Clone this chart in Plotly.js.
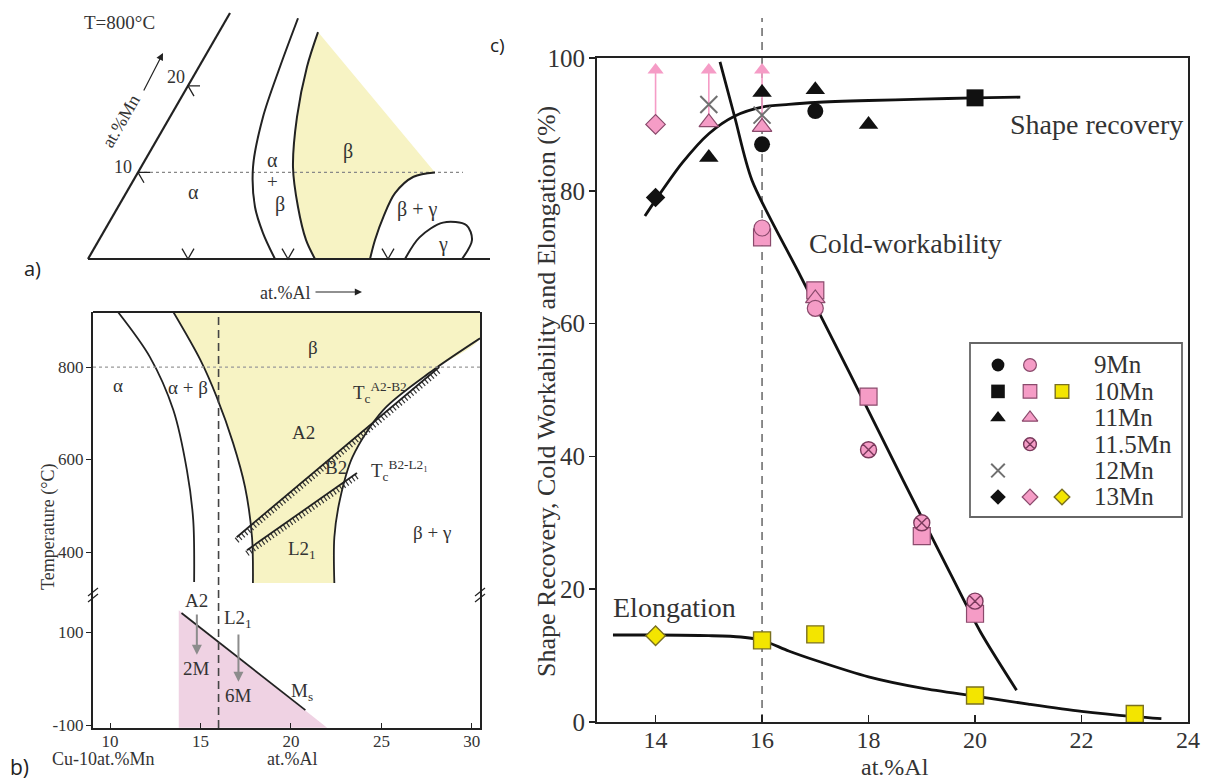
<!DOCTYPE html>
<html>
<head>
<meta charset="utf-8">
<script src="https://cdn.plot.ly/plotly-3.0.1.min.js"></script>
<style>
  html, body { margin: 0; padding: 0; background: #fff; }
  #fig { width: 1216px; height: 781px; }
</style>
</head>
<body>
<div id="fig"></div>
<script>
// ---------- (a) Cu–Al–Mn isothermal section at 800 °C, points given as (at.%Al, at.%Mn) ----------
const secAlphaAl  = [7.1, 8.1, 9.3, 11.2, 13.7, 16.0, 18.7];
const secAlphaMn  = [27.8, 22.2, 16.4, 10.6, 6.0, 3.0, 0];
const secBetaLoAl = [9.9, 10.8, 12.7, 15.2, 18.0, 20.7, 22.7];
const secBetaLoMn = [26.2, 22.2, 16.4, 10.6, 6.0, 2.2, 0];
const secBetaHiAl = [29.7, 27.8, 26.9, 27.1, 27.6, 28.2];
const secBetaHiMn = [10.0, 9.5, 7.6, 4.9, 2.2, 0];
const secGammaAl  = [31.7, 31.9, 33.4, 35.9, 37.3, 37.4];
const secGammaMn  = [0, 2.5, 4.2, 3.9, 2.2, 0];
const secAlTicks  = [10, 20, 30];
const secMnTicks  = [10, 20];
const secMnCut    = 10;
const secCutEndAl = 32.5;
const secAlMax    = 40.2;
const secMnMax    = 28.4;

// ---------- (b) vertical section Cu-10at.%Mn – Al ----------
const vsAlphaAl   = [10.44, 12.2, 13.5, 14.25, 14.6, 14.65];
const vsAlphaT    = [919, 822, 707, 577, 469, 335];
const vsBetaLoAl  = [13.5, 15.0, 15.9, 16.8, 17.46, 17.85, 17.9];
const vsBetaLoT   = [919, 815, 735, 636, 541, 432, 333];
const vsBetaHiAl  = [30.45, 27.85, 25.1, 23.4, 22.7, 22.4, 22.4];
const vsBetaHiT   = [862, 793, 707, 605, 512, 432, 333];
const vsTcA2B2Al  = [17.0, 28.2];
const vsTcA2B2T   = [432, 800];
const vsTcB2L2Al  = [17.57, 23.65];
const vsTcB2L2T   = [404, 571];
const vsMsAl      = [13.95, 20.8];
const vsMsT       = [141, -68];
const vsMartAl    = [13.8, 22.0, 13.8];
const vsMartT     = [147, -106, -106];
const vsArrowAl   = [14.8, 17.1];
const vsArrowFrom = [141, 98];
const vsArrowTo   = [51, -7];
const vsParent    = ['A2', 'L2<sub>1</sub>'];
const vsMarten    = ['2M', '6M'];
const vsSectionAl = 16;
const vsIsoT      = 800;
const vsUpperT    = [307, 919];
const vsLowerT    = [-106.4, 179.6];
const vsXTicks    = [10, 15, 20, 25, 30];
const vsUpTicks   = [400, 600, 800];
const vsLoTicks   = [-100, 100];
const vsLoLabels  = ['-100', '100'];

// ---------- (c) properties vs at.%Al ----------
// shape recovery (black)
const srAl9  = [16, 17],          srVal9  = [87, 92];
const srAl10 = [20],              srVal10 = [94];
const srAl11 = [15, 16, 17, 18],  srVal11 = [85, 94.8, 95.2, 90];
const srAl12 = [15, 16],          srVal12 = [93, 91.4];
const srAl13 = [14],              srVal13 = [79];
// cold workability (pink)
const cwAl9   = [16, 17],             cwVal9   = [74.4, 62.3];
const cwAl10  = [16, 17, 18, 19, 20], cwVal10  = [73, 65, 49, 28, 16.3];
const cwAl11  = [15, 16, 17],         cwVal11  = [90.3, 89.6, 63.8];
const cwAl115 = [18, 19, 20],         cwVal115 = [41, 30, 18.2];
const cwAl13  = [14],                 cwVal13  = [90];
const cwUpAl   = [14, 15, 16];        // alloys that were cold-worked without cracking
const cwUpFrom = [90, 90.3, 89.6];
const cwUpTo   = 98.2;
// elongation (yellow)
const elAl10 = [16, 17, 20, 23], elVal10 = [12.3, 13.2, 4, 1.2];
const elAl13 = [14],             elVal13 = [13];
// guide curves
const srFitAl = [13.8, 14.0, 14.5, 15.0, 15.5, 16.0, 16.5, 17.0, 18.0, 19.0, 20.0, 20.85];
const srFitV  = [76.2, 78.6, 84.2, 88.6, 91.3, 92.6, 93.0, 93.3, 93.6, 93.8, 94.0, 94.1];
const cwFitAl = [15.21, 15.49, 15.81, 16.72, 17.66, 18.65, 19.54, 20.1, 20.78];
const cwFitV  = [99.4, 91, 81.6, 67.2, 52.3, 36.4, 22.3, 13.6, 4.8];
const elFitAl = [13.2, 14, 15, 15.6, 16, 16.5, 17, 18, 19, 20, 21, 22, 23, 23.5];
const elFitV  = [13.1, 13.1, 13.0, 12.8, 12.3, 10.7, 9.3, 6.8, 5.1, 3.9, 2.7, 1.6, 0.8, 0.5];
const orderAl = 16;      // A2 / L2_1 boundary
const xTicksC = [14, 16, 18, 20, 22, 24];
const yTicksC = [0, 20, 40, 60, 80, 100];

// legend rows: symbols for the shape-recovery, cold-workability and elongation columns
const legRows = ['9Mn', '10Mn', '11Mn', '11.5Mn', '12Mn', '13Mn'];
const legKeys = [
  ['circle', 'circle', null],
  ['square', 'square', 'square'],
  ['triangle-up', 'triangle-up', null],
  [null, 'circle-x', null],
  ['x-thin-open', null, null],
  ['diamond', 'diamond', 'diamond']
];

// ---------- styling ----------
const W = 1216, H = 781;
const PX = v => v / W, PY = v => 1 - v / H;
const SERIF = 'Liberation Serif, DejaVu Serif, serif';
const SANS = 'Open Sans, Liberation Sans, sans-serif';
const INK = '#222';
const TXT = '#333';
const YEL_FILL = '#f7f3c4';
const PINK_FILL = '#efd2e3';
const PINK = '#f59cc6', PINK_EDGE = '#8a4a6c';
const YEL = '#f3e500', YEL_EDGE = '#7a7020';
const GREY_X = '#707070';

const traces = [];
const base = { type: 'scatter', hoverinfo: 'skip', showlegend: false };

// ---------- (a) ----------
const R3 = Math.sqrt(3) / 2;
const terX = (al, mn) => al.map((a, i) => a + mn[i] / 2);
const terY = mn => mn.map(m => m * R3);
function terLine(al, mn, extra) {
  traces.push(Object.assign({}, base, {
    x: terX(al, mn), y: terY(mn), xaxis: 'x3', yaxis: 'y4', mode: 'lines',
    line: { color: INK, width: 2, shape: 'spline', smoothing: 0.9 }
  }, extra || {}));
}
// beta field: filled between the alpha+beta/beta and beta/beta+gamma boundaries
terLine(secBetaLoAl, secBetaLoMn, { line: { width: 0, shape: 'spline', smoothing: 0.9 } });
terLine(secBetaHiAl, secBetaHiMn, { fill: 'tonexty', fillcolor: YEL_FILL, line: { width: 0, shape: 'spline', smoothing: 0.9 } });
// Mn = 10 cut
terLine([0, secCutEndAl], [secMnCut, secMnCut], { line: { color: '#888', width: 1.3, dash: 'dot' } });
// triangle edges
terLine([0, secAlMax], [0, 0], { line: { color: INK, width: 2.2 } });
terLine([0, 0], [0, secMnMax], { line: { color: INK, width: 2.2 } });
// phase boundaries
terLine(secAlphaAl, secAlphaMn);
terLine(secBetaLoAl, secBetaLoMn);
terLine(secBetaHiAl, secBetaHiMn);
terLine(secGammaAl, secGammaMn);
// grid ticks on the two edges
{
  const al = [], mn = [];
  secAlTicks.forEach(t => { al.push(t, t, t - 1.2, null); mn.push(1.2, 0, 1.2, null); });
  secMnTicks.forEach(t => { al.push(1.2, 0, 1.2, null); mn.push(t, t, t - 1.2, null); });
  traces.push(Object.assign({}, base, {
    x: al.map((a, i) => a === null ? null : a + mn[i] / 2),
    y: mn.map(m => m === null ? null : m * R3),
    xaxis: 'x3', yaxis: 'y4', mode: 'lines', line: { color: INK, width: 1.3 }
  }));
}

// ---------- (b) ----------
function vs(xs, ys, yax, extra) {
  traces.push(Object.assign({}, base, {
    x: xs, y: ys, xaxis: 'x2', yaxis: yax, mode: 'lines',
    line: { color: INK, width: 1.8, shape: 'spline', smoothing: 0.9 }
  }, extra || {}));
}
// beta field above the break: between the two boundaries, closed along the top frame
vs(vsBetaLoAl, vsBetaLoT, 'y3', { line: { width: 0, shape: 'spline', smoothing: 0.9 } });
vs([vsBetaHiAl[0]].concat(vsBetaHiAl), [vsUpperT[1]].concat(vsBetaHiT), 'y3',
  { fill: 'tonexty', fillcolor: YEL_FILL, line: { width: 0, shape: 'spline', smoothing: 0.9 } });
// martensite field below Ms
vs(vsMartAl, vsMartT, 'y2', { fill: 'toself', fillcolor: PINK_FILL, line: { width: 0 } });
vs(vsAlphaAl, vsAlphaT, 'y3');
vs(vsBetaLoAl, vsBetaLoT, 'y3');
vs(vsBetaHiAl, vsBetaHiT, 'y3');
// ordering temperatures with hatching on the ordered side
[[vsTcA2B2Al, vsTcA2B2T], [vsTcB2L2Al, vsTcB2L2T]].forEach(([xs, ts]) => {
  vs(xs, ts.map(t => t - 7), 'y3', { line: { color: '#333', width: 6, dash: '1.2px,2.6px' } });
  vs(xs, ts, 'y3', { line: { color: INK, width: 1.8 } });
});
vs(vsMsAl, vsMsT, 'y2', { line: { color: INK, width: 1.8 } });

// ---------- (c) ----------
function cLine(xs, ys) {
  traces.push(Object.assign({}, base, {
    x: xs, y: ys, xaxis: 'x', yaxis: 'y', mode: 'lines',
    line: { color: '#111', width: 2.8, shape: 'spline', smoothing: 0.8 }
  }));
}
cLine(srFitAl, srFitV);
cLine(cwFitAl, cwFitV);
cLine(elFitAl, elFitV);
// arrow shafts for the cold-workability marks that reached the limit
{
  const xs = [], ys = [];
  cwUpAl.forEach((a, i) => { xs.push(a, a, null); ys.push(cwUpFrom[i], cwUpTo, null); });
  traces.push(Object.assign({}, base, { x: xs, y: ys, mode: 'lines', line: { color: PINK, width: 1.6 } }));
  traces.push(Object.assign({}, base, {
    x: cwUpAl, y: cwUpAl.map(() => cwUpTo), mode: 'markers', cliponaxis: false,
    marker: { symbol: 'triangle-up', size: 14, color: PINK, line: { width: 0 } }
  }));
}
const looks = {
  sr: { color: '#111', line: { width: 0 } },
  cw: { color: PINK, line: { color: PINK_EDGE, width: 1.2 } },
  el: { color: YEL, line: { color: YEL_EDGE, width: 1.4 } }
};
const sizes = { circle: 16, square: 17, 'triangle-up': 17, diamond: 15, 'circle-x': 16, 'x-thin-open': 17 };
function markStyle(sym, col, scale) {
  const s = (sizes[sym] || 14) * (scale || 1);
  if (sym === 'x-thin-open') return { symbol: sym, size: s, color: GREY_X, line: { color: GREY_X, width: 2 } };
  if (sym === 'circle-x') return { symbol: sym, size: s, color: PINK, line: { color: '#7a3a5c', width: 1.4 } };
  return Object.assign({ symbol: sym, size: s }, JSON.parse(JSON.stringify(looks[col])));
}
function cPts(xs, ys, sym, col) {
  traces.push(Object.assign({}, base, {
    x: xs, y: ys, xaxis: 'x', yaxis: 'y', mode: 'markers', cliponaxis: false,
    marker: markStyle(sym, col)
  }));
}
cPts(elAl10, elVal10, 'square', 'el');
cPts(elAl13, elVal13, 'diamond', 'el');
cPts(cwAl10, cwVal10, 'square', 'cw');
cPts(cwAl11, cwVal11, 'triangle-up', 'cw');
cPts(cwAl9, cwVal9, 'circle', 'cw');
cPts(cwAl115, cwVal115, 'circle-x', 'cw');
cPts(cwAl13, cwVal13, 'diamond', 'cw');
cPts(srAl12, srVal12, 'x-thin-open', 'sr');
cPts(srAl9, srVal9, 'circle', 'sr');
cPts(srAl10, srVal10, 'square', 'sr');
cPts(srAl11, srVal11, 'triangle-up', 'sr');
cPts(srAl13, srVal13, 'diamond', 'sr');

// legend keys
const legCols = ['sr', 'cw', 'el'];
const legColX = [28, 60, 92], legRow0 = 22, legStep = 26.4, legTextX = 122;
legKeys.forEach((row, r) => row.forEach((sym, c) => {
  if (!sym) return;
  traces.push(Object.assign({}, base, {
    x: [legColX[c]], y: [legRow0 + r * legStep], xaxis: 'x4', yaxis: 'y5', mode: 'markers',
    marker: markStyle(sym, legCols[c], 0.8)
  }));
}));

// ---------- annotations ----------
const ann = [];
const txt = (o, size, color, family) => Object.assign({
  showarrow: false, xanchor: 'center', yanchor: 'middle',
  font: { family: family || SERIF, size: size, color: color || TXT }
}, o);

// (a)
const aRef = { xref: 'x3', yref: 'y4' };
const aPt = (px, py) => ({ x: (px - 88) / 10, y: (259 - py) / 10 });
[
  ['T=800°C', 119, 23, 19], ['α', 193, 192, 20], ['α', 272, 160, 20], ['+', 272, 182, 19],
  ['β', 280, 205, 20], ['β', 348, 152, 20], ['β + γ', 417, 210, 20], ['γ', 443, 245, 20],
  ['Cu', 76, 274, 18], ['10', 190, 274, 18], ['20', 288, 274, 18], ['30', 388, 274, 18],
  ['10', 123, 167, 18], ['20', 176, 77, 18]
].forEach(([t, x, y, s]) => ann.push(txt(Object.assign({ text: t }, aRef, aPt(x, y)), s)));
ann.push(txt(Object.assign({ text: 'at.%Mn', textangle: -60 }, aRef, aPt(121, 121)), 18));
ann.push(Object.assign({ text: '', showarrow: true, axref: 'x3', ayref: 'y4', arrowhead: 2, arrowsize: 1.2, arrowwidth: 1.2, arrowcolor: INK },
  aRef, aPt(163, 53), { ax: aPt(143, 92).x, ay: aPt(143, 92).y }));
ann.push(txt({ text: 'at.%Al', xref: 'paper', yref: 'paper', x: PX(285), y: PY(293) }, 18));
ann.push({ text: '', showarrow: true, xref: 'paper', yref: 'paper', x: PX(362), y: PY(292), ax: -48, ay: 0,
  arrowhead: 2, arrowsize: 1.2, arrowwidth: 1.2, arrowcolor: INK });

// (b)
const bUp = { xref: 'x2', yref: 'y3' }, bLo = { xref: 'x2', yref: 'y2' };
[
  ['α', 10.45, 761], ['α + β', 14.3, 755], ['β', 21.2, 843], ['A2', 20.7, 659],
  ['B2', 22.5, 582], ['L2<sub>1</sub>', 20.6, 404], ['β + γ', 27.8, 443]
].forEach(([t, x, y]) => ann.push(txt(Object.assign({ text: t, x: x, y: y }, bUp), 19)));
ann.push(txt(Object.assign({ text: 'T<sub>c</sub><sup>A2-B2</sup>', x: 23.3, y: 744, xanchor: 'left' }, bUp), 19));
ann.push(txt(Object.assign({ text: 'T<sub>c</sub><sup>B2-L2₁</sup>', x: 24.3, y: 577, xanchor: 'left' }, bUp), 19));
vsArrowAl.forEach((a, i) => {
  ann.push(Object.assign({ text: '', showarrow: true, x: a, y: vsArrowTo[i], ax: a, ay: vsArrowFrom[i], axref: 'x2', ayref: 'y2',
    arrowhead: 2, arrowsize: 1, arrowwidth: 2, arrowcolor: '#8c8c8c' }, bLo));
  ann.push(txt(Object.assign({ text: vsParent[i], x: a, y: vsArrowFrom[i], yanchor: 'bottom', yshift: 0 }, bLo), 19));
  ann.push(txt(Object.assign({ text: vsMarten[i], x: a, y: vsArrowTo[i], yanchor: 'top', yshift: -1 }, bLo), 19));
});
ann.push(txt(Object.assign({ text: 'M<sub>s</sub>', x: 20.6, y: -29 }, bLo), 19));
ann.push(txt({ text: 'Temperature (°C)', xref: 'paper', yref: 'paper', x: PX(48), y: PY(527), textangle: -90 }, 18));
ann.push(txt({ text: 'Cu-10at.%Mn', xref: 'paper', yref: 'paper', x: PX(103), y: PY(759) }, 18));
ann.push(txt({ text: 'at.%Al', xref: 'paper', yref: 'paper', x: PX(292), y: PY(759) }, 18));

// (c)
ann.push(txt({ text: 'Shape Recovery, Cold Workability and Elongation (%)', xref: 'paper', yref: 'paper',
  x: PX(546), y: PY(392), textangle: -90 }, 26));
ann.push(txt({ text: 'at.%Al', xref: 'paper', yref: 'paper', x: PX(895), y: PY(767) }, 24));
ann.push(txt({ text: 'Shape recovery', xref: 'x', yref: 'y', x: 22.28, y: 90.0 }, 28));
ann.push(txt({ text: 'Cold-workability', xref: 'x', yref: 'y', x: 18.69, y: 72.0 }, 28));
ann.push(txt({ text: 'Elongation', xref: 'x', yref: 'y', x: 14.35, y: 17.2 }, 28));
ann.push(txt({ text: 'A2', xref: 'x', yref: 'y', x: 13.84, y: 103.9 }, 26));
ann.push(txt({ text: 'L2<sub>1</sub>', xref: 'x', yref: 'y', x: 18.3, y: 103.6 }, 26));
ann.push({ text: '', showarrow: true, xref: 'x', yref: 'y', axref: 'x', ayref: 'y', x: 17.75, y: 103.8, ax: 14.33, ay: 103.8,
  arrowside: 'end+start', arrowhead: 2, arrowsize: 1.3, arrowwidth: 1.3, arrowcolor: INK });
legRows.forEach((t, r) => ann.push(txt({ text: t, xref: 'x4', yref: 'y5', x: legTextX, y: legRow0 + r * legStep, xanchor: 'left' }, 25)));

// panel letters
ann.push(txt({ text: 'a)', xref: 'paper', yref: 'paper', x: PX(32), y: PY(268) }, 20, INK, SANS));
ann.push(txt({ text: 'b)', xref: 'paper', yref: 'paper', x: PX(19), y: PY(767) }, 21, INK, SANS));
ann.push(txt({ text: 'c)', xref: 'paper', yref: 'paper', x: PX(497), y: PY(45) }, 19, INK, SANS));

// ---------- shapes ----------
const domC = { x: [PX(597), PX(1188)], y: [PY(722), PY(58)] };
const domB = { x: [PX(93), PX(480)], lo: [PY(728), PY(595)], up: [PY(595), PY(312)] };
const shapes = [
  // A2 / L2_1 boundary in (c), running up to the ordering arrow
  { type: 'line', xref: 'x', yref: 'paper', x0: orderAl, x1: orderAl, y0: domC.y[0], y1: PY(18),
    line: { color: '#666', width: 1.5, dash: '8px,6px' }, layer: 'below' },
  // same composition in (b)
  { type: 'line', xref: 'x2', yref: 'paper', x0: vsSectionAl, x1: vsSectionAl, y0: domB.lo[0], y1: domB.up[1],
    line: { color: '#444', width: 1.6, dash: '8px,5px' }, layer: 'above' },
  // 800 °C isotherm
  { type: 'line', xref: 'x2 domain', yref: 'y3', x0: 0, x1: 1, y0: vsIsoT, y1: vsIsoT,
    line: { color: '#999', width: 1.3, dash: 'dot' }, layer: 'above' },
  // top edge of (b)
  { type: 'line', xref: 'x2 domain', yref: 'y3 domain', x0: 0, x1: 1, y0: 1, y1: 1, line: { color: INK, width: 2 } },
  // legend frame
  { type: 'rect', xref: 'paper', yref: 'paper', x0: PX(970), x1: PX(1182), y0: PY(517), y1: PY(343),
    line: { color: '#666', width: 1.8 }, fillcolor: 'rgba(255,255,255,0)' }
];
// axis-break marks on both sides of (b)
[93, 480].forEach(xp => {
  [-3, 3].forEach(d => shapes.push({ type: 'line', xref: 'paper', yref: 'paper',
    x0: PX(xp - 5), x1: PX(xp + 5), y0: PY(599 + d), y1: PY(591 + d), line: { color: INK, width: 1.3 } }));
});

// ---------- layout ----------
const tickFontC = { family: SERIF, size: 25, color: TXT };
const tickFontCx = { family: SERIF, size: 24, color: TXT };
const tickFontB = { family: SERIF, size: 17, color: TXT };
const axBase = { showgrid: false, zeroline: false, showline: true, linecolor: INK, tickcolor: INK };
const layout = {
  width: W, height: H, margin: { l: 0, r: 0, t: 0, b: 0 },
  font: { family: SERIF, color: TXT },
  paper_bgcolor: '#fff', plot_bgcolor: 'rgba(0,0,0,0)', showlegend: false,
  xaxis: Object.assign({}, axBase, {
    domain: domC.x, range: [12.9, 24], anchor: 'y', tickvals: xTicksC, ticks: 'inside', ticklen: 7, tickwidth: 1.5,
    linewidth: 2, mirror: true, tickfont: tickFontCx, ticklabelstandoff: -5
  }),
  yaxis: Object.assign({}, axBase, {
    domain: domC.y, range: [0, 100], anchor: 'x', tickvals: yTicksC, ticks: 'outside', ticklen: 6, tickwidth: 1.5,
    linewidth: 2, mirror: true, tickfont: tickFontC, ticklabelstandoff: -1
  }),
  xaxis2: Object.assign({}, axBase, {
    domain: domB.x, range: [9.06, 30.45], anchor: 'y2', tickvals: vsXTicks, ticks: 'inside', ticklen: 5,
    linewidth: 2, tickfont: tickFontB, ticklabelstandoff: -3
  }),
  yaxis2: Object.assign({}, axBase, {
    domain: domB.lo, range: vsLowerT, anchor: 'x2', tickmode: 'array', tickvals: vsLoTicks, ticktext: vsLoLabels,
    ticks: 'outside', ticklen: 5, linewidth: 2, mirror: true, tickfont: tickFontB, ticklabelstandoff: -1
  }),
  yaxis3: Object.assign({}, axBase, {
    domain: domB.up, range: vsUpperT, anchor: 'x2', tickvals: vsUpTicks, ticks: 'outside', ticklen: 5,
    linewidth: 2, mirror: true, tickfont: tickFontB, ticklabelstandoff: -1
  }),
  xaxis3: { domain: [PX(78), PX(498)], range: [-1, 41], anchor: 'y4', visible: false, fixedrange: true },
  yaxis4: { domain: [PY(269), PY(7)], range: [-1, 25.2], anchor: 'x3', visible: false, fixedrange: true },
  xaxis4: { domain: [PX(970), PX(1182)], range: [0, 212], anchor: 'y5', visible: false },
  yaxis5: { domain: [PY(517), PY(343)], range: [174, 0], anchor: 'x4', visible: false },
  annotations: ann,
  shapes: shapes
};

Plotly.newPlot('fig', traces, layout, { staticPlot: true, displayModeBar: false });
</script>
</body>
</html>
